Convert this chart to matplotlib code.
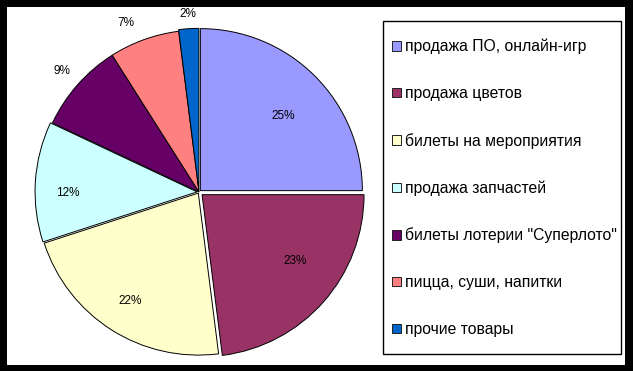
import numpy as np
import matplotlib
matplotlib.use('Agg')
import matplotlib.pyplot as plt
from matplotlib.patches import Rectangle, Patch

plt.rcParams['font.family'] = ['Liberation Sans', 'DejaVu Sans']

# Data
categories = ['продажа ПО, онлайн-игр', 'продажа цветов', 'билеты на мероприятия',
              'продажа запчастей', 'билеты лотерии "Суперлото"',
              'пицца, суши, напитки', 'прочие товары']
shares = [25, 23, 22, 12, 9, 7, 2]
colors = ['#9999FF', '#993366', '#FFFFCC', '#CCFFFF', '#660066', '#FF8080', '#0066CC']

# style: explode offsets, label distances (in radii) and angle nudges (deg)
explode = [0.012, 0.025, 0.008, 0.012, 0.0, 0.0, 0.01]
label_dist = [0.69, 0.705, 0.79, 0.80, 1.13, 1.14, 1.09]
label_nudge = [-3, 6, 0, 4, 0, 3.6, 0]

W, H = 633, 371
fig = plt.figure(figsize=(W / 100, H / 100), dpi=100, facecolor='black')


def fbox(x0, y0, x1, y1):
    # pixel box (top-down) -> figure fraction rect
    return [x0 / W, (H - y1) / H, (x1 - x0) / W, (y1 - y0) / H]


# white chart area
l, b, w, h = fbox(7, 7, 625, 365)
fig.patches.append(Rectangle((l, b), w, h, transform=fig.transFigure,
                             facecolor='white', edgecolor='none', zorder=-2))

# legend frame
l, b, w, h = fbox(383, 21, 621, 354)
fig.patches.append(Rectangle((l, b), w, h, transform=fig.transFigure,
                             facecolor='white', edgecolor='black', linewidth=1.0, zorder=-1))

# pie
ax = fig.add_axes(fbox(37, 30, 361, 354))
ax.set_zorder(2)
ax.set_facecolor('none')
wedges, _ = ax.pie(shares, colors=colors, startangle=90, counterclock=False,
                   explode=explode,
                   wedgeprops=dict(edgecolor='black', linewidth=0.7, clip_on=False))
ax.set_xlim(-1, 1)
ax.set_ylim(-1, 1)
ax.axis('off')

for wdg, val, d, ex, nd in zip(wedges, shares, label_dist, explode, label_nudge):
    ang = np.deg2rad((wdg.theta1 + wdg.theta2) / 2 + nd)
    r = d + ex
    ax.text(r * np.cos(ang), r * np.sin(ang), f'{val}%', ha='center', va='center',
            fontsize=8.5, color='black')

handles = [Patch(facecolor=c, edgecolor='#202020', linewidth=0.7) for c in colors]
leg = fig.legend(handles, categories, loc='upper left',
                 bbox_to_anchor=(392 / W, (H - 39) / H),
                 frameon=False, fontsize=11.3, borderpad=0, borderaxespad=0,
                 handlelength=0.55, handleheight=0.55, handletextpad=0.25,
                 labelspacing=2.02)
leg.set_zorder(3)

fig.savefig('out.png', dpi=100, facecolor='black')
